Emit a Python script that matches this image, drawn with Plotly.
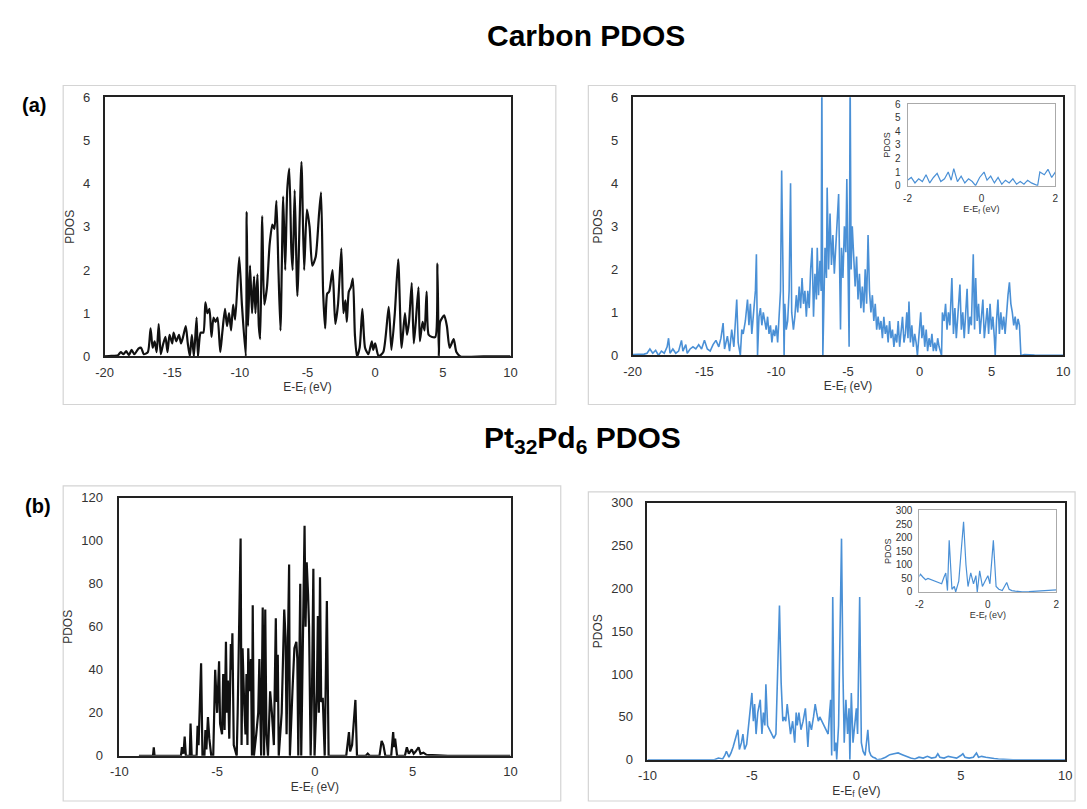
import plotly.graph_objects as go

W, H = 1087, 809

# ---------------- data ----------------
# (a) Carbon PDOS, left (black)
carbon_a_e = [-20.0, -19.5, -19.0, -18.8, -18.6, -18.4, -18.2, -18.0, -17.8, -17.5, -17.3, -17.1, -16.8, -16.6, -16.45,
              -16.3, -16.15, -16.0, -15.85, -15.7, -15.5, -15.35, -15.2, -15.0, -14.9, -14.7, -14.5, -14.35, -14.2, -14.0,
              -13.85, -13.7, -13.55, -13.4, -13.2, -13.1, -12.9, -12.7, -12.55, -12.4, -12.25, -12.1, -11.95, -11.8,
              -11.65, -11.45, -11.3, -11.1, -10.95, -10.8, -10.65, -10.5, -10.35, -10.05, -9.85, -9.56, -9.5, -9.4,
              -9.25, -9.1, -8.95, -8.85, -8.7, -8.6, -8.5, -8.35, -8.2, -8.0, -7.8, -7.6, -7.45, -7.3, -7.15, -7.0,
              -6.8, -6.65, -6.5, -6.35, -6.2, -6.1, -5.95, -5.75, -5.45, -5.25, -5.05, -4.85, -4.65, -4.4, -4.15, -4.0,
              -3.85, -3.7, -3.55, -3.4, -3.15, -2.95, -2.75, -2.5, -2.35, -2.2, -2.1, -1.95, -1.8, -1.65, -1.5, -1.35,
              -1.15, -0.95, -0.75, -0.5, -0.25, -0.15, 0.0, 0.25, 0.6, 1.0, 1.2, 1.45, 1.7, 1.95, 2.2, 2.35, 2.5, 2.7,
              2.85, 3.0, 3.2, 3.3, 3.5, 3.65, 3.8, 3.95, 4.2, 4.45, 4.6, 4.7, 4.8, 5.1, 5.3, 5.5, 5.8, 6.0, 6.3, 8.0, 10.0]
carbon_a_pdos = [0.0, 0.01, 0.03, 0.1, 0.05, 0.12, 0.03, 0.15, 0.05, 0.18, 0.2, 0.05, 0.1, 0.65, 0.2,
                 0.35, 0.1, 0.75, 0.05, 0.25, 0.45, 0.1, 0.5, 0.3, 0.55, 0.35, 0.5, 0.3, 0.45, 0.7,
                 0.3, 0.0, 0.5, 0.0, 0.9, 0.0, 0.55, 0.55, 1.25, 1.0, 1.1, 0.45, 0.9, 0.8,
                 0.9, 0.1, 0.55, 1.1, 0.7, 1.0, 0.6, 1.2, 0.85, 2.3, 1.2, 0.0, 3.35, 0.7,
                 2.1, 1.0, 1.85, 1.0, 1.9, 0.7, 0.4, 3.25, 1.2, 1.6, 2.6, 3.05, 2.95, 3.6, 2.0, 0.6,
                 3.7, 2.0, 3.85, 4.35, 2.5, 2.0, 3.85, 1.4, 4.5, 2.0, 3.4, 3.0, 2.1, 2.3, 3.3, 3.8,
                 1.5, 0.65, 1.45, 1.5, 2.0, 0.75, 1.2, 2.5, 1.0, 1.3, 0.8, 1.5, 1.6, 1.8, 0.5, 0.0,
                 0.2, 1.1, 0.2, 0.05, 0.35, 0.15, 0.3, 0.0, 0.1, 1.15, 0.15, 1.0, 2.25, 0.2, 1.0, 0.5, 0.8, 1.7,
                 0.3, 0.8, 1.6, 0.35, 0.8, 0.6, 1.5, 0.5, 0.45, 0.45, 2.15, 0.0, 0.8, 0.95, 0.7, 0.2, 0.4, 0.1, 0.0, 0.0, 0.0]

# (a) Carbon PDOS, right (blue)
carbon_b_e = [-20.0, -19.6, -19.2, -19.0, -18.8, -18.6, -18.4, -18.2, -18.0, -17.8, -17.6, -17.5, -17.4, -17.2, -17.0,
              -16.8, -16.6, -16.5, -16.3, -16.2, -16.0, -15.8, -15.6, -15.4, -15.2, -15.0, -14.8, -14.6, -14.4, -14.2,
              -14.0, -13.85, -13.7, -13.6, -13.4, -13.25, -13.1, -12.95, -12.85, -12.75, -12.65, -12.5, -12.4, -12.3,
              -12.15, -12.0, -11.9, -11.8, -11.7, -11.6, -11.45, -11.38, -11.3, -11.2, -11.1, -11.0, -10.9, -10.8,
              -10.7, -10.6, -10.5, -10.4, -10.3, -10.2, -10.1, -10.0, -9.9, -9.8, -9.7, -9.62, -9.55, -9.45, -9.4,
              -9.3, -9.2, -9.1, -9.0, -8.92, -8.8, -8.7, -8.6, -8.5, -8.4, -8.3, -8.2, -8.1, -8.0, -7.9, -7.8, -7.7,
              -7.6, -7.5, -7.4, -7.3, -7.2, -7.14, -7.05, -6.95, -6.87, -6.82, -6.75, -6.68, -6.6, -6.5, -6.45, -6.35,
              -6.25, -6.15, -6.05, -5.95, -5.85, -5.75, -5.65, -5.58, -5.52, -5.45, -5.35, -5.25, -5.15, -5.08, -5.0,
              -4.92, -4.85, -4.78, -4.7, -4.6, -4.5, -4.4, -4.3, -4.2, -4.1, -4.0, -3.9, -3.8, -3.7, -3.6, -3.5, -3.4,
              -3.3, -3.2, -3.1, -3.0, -2.9, -2.8, -2.7, -2.6, -2.5, -2.4, -2.3, -2.2, -2.1, -2.0, -1.9, -1.8, -1.7,
              -1.6, -1.5, -1.4, -1.3, -1.2, -1.1, -1.0, -0.9, -0.82, -0.75, -0.65, -0.55, -0.45, -0.35, -0.25, -0.16,
              -0.05, 0.07, 0.15, 0.25, 0.35, 0.45, 0.55, 0.65, 0.75, 0.85, 0.95, 1.05, 1.15, 1.25, 1.35, 1.45, 1.52,
              1.58, 1.7, 1.8, 1.9, 2.0, 2.1, 2.24, 2.35, 2.45, 2.55, 2.65, 2.8, 2.9, 3.0, 3.1, 3.2, 3.3, 3.4, 3.5,
              3.6, 3.73, 3.82, 3.9, 4.0, 4.1, 4.2, 4.3, 4.4, 4.5, 4.6, 4.7, 4.8, 4.9, 5.0, 5.1, 5.2, 5.26, 5.35,
              5.45, 5.55, 5.65, 5.75, 5.85, 5.95, 6.05, 6.15, 6.25, 6.35, 6.45, 6.55, 6.65, 6.75, 6.85, 6.95, 7.05,
              7.3, 8.0, 10.0]
carbon_b_pdos = [0.02, 0.02, 0.03, 0.05, 0.15, 0.05, 0.12, 0.0, 0.1, 0.05, 0.2, 0.4, 0.05, 0.15, 0.05,
                 0.1, 0.35, 0.1, 0.25, 0.05, 0.15, 0.2, 0.15, 0.25, 0.15, 0.35, 0.15, 0.1, 0.25, 0.35,
                 0.2, 0.4, 0.75, 0.15, 0.45, 0.1, 0.6, 0.2, 0.7, 1.3, 0.3, 0.0, 0.6, 0.5,
                 0.8, 1.3, 0.7, 1.2, 0.5, 0.9, 1.5, 2.35, 0.0, 0.9, 1.1, 0.7, 1.0, 0.8,
                 0.6, 0.9, 0.5, 0.7, 0.3, 0.6, 0.45, 0.7, 0.3, 0.9, 1.5, 4.3, 2.0, 0.0, 1.2,
                 0.6, 0.8, 1.5, 4.0, 1.0, 0.6, 0.9, 1.4, 1.0, 1.6, 1.1, 1.8, 1.2, 1.5, 0.9, 1.5, 1.1,
                 2.0, 2.5, 0.9, 1.9, 1.3, 2.5, 1.4, 2.2, 1.5, 6.5, 0.0, 1.2, 2.5, 1.8, 3.9, 2.0,
                 3.3, 2.1, 2.8, 1.9, 2.6, 3.0, 3.75, 2.0, 0.6, 2.5, 1.8, 3.0, 2.4, 4.1, 2.2,
                 0.2, 6.5, 2.0, 3.0, 2.2, 1.6, 2.3, 1.3, 1.9, 1.1, 1.6, 1.0, 2.0, 1.2, 2.8, 1.5, 1.0,
                 1.4, 0.8, 1.2, 0.6, 0.9, 0.6, 0.8, 0.4, 0.9, 0.5, 0.7, 0.3, 0.8, 0.4, 0.6, 0.2, 0.5,
                 0.3, 0.8, 0.2, 0.6, 0.9, 0.3, 0.5, 1.0, 0.4, 1.25, 0.3, 0.7, 0.2, 0.5, 0.3, 0.0,
                 0.6, 1.0, 0.4, 0.7, 0.2, 0.6, 0.1, 0.4, 0.2, 0.5, 0.1, 0.3, 0.1, 0.4, 0.2, 0.1, 0.0,
                 1.0, 0.8, 1.2, 0.6, 1.0, 0.7, 1.8, 0.5, 1.1, 0.4, 0.9, 1.65, 0.6, 1.0, 0.4, 0.9, 1.55, 0.5, 0.9,
                 0.7, 2.35, 0.6, 1.8, 0.8, 1.2, 0.5, 0.9, 1.3, 0.4, 0.8, 1.1, 0.5, 1.2, 0.6, 0.9, 0.4, 0.0, 0.8,
                 1.3, 0.5, 1.0, 0.6, 0.9, 0.5, 1.1, 1.4, 1.7, 1.2, 1.0, 0.7, 0.9, 0.6, 0.85, 0.7, 0.0,
                 0.02, 0.01, 0.0]

# (b) Pt32Pd6 PDOS, left (black)
pt_a_e = [-9.0, -8.28, -8.24, -8.2, -6.85, -6.8, -6.72, -6.66, -6.6, -6.4, -6.36, -6.3, -6.05, -6.0, -5.95,
          -5.82, -5.75, -5.65, -5.6, -5.55, -5.47, -5.4, -5.3, -5.2, -5.1, -5.0, -4.9, -4.85, -4.75, -4.69,
          -4.62, -4.55, -4.5, -4.45, -4.38, -4.3, -4.26, -4.22, -4.15, -4.0, -3.95, -3.88, -3.8, -3.75, -3.7,
          -3.62, -3.55, -3.5, -3.45, -3.41, -3.35, -3.27, -3.22, -3.18, -3.12, -3.0, -2.9, -2.84, -2.75, -2.67,
          -2.6, -2.54, -2.48, -2.4, -2.29, -2.2, -2.1, -2.0, -1.95, -1.9, -1.85, -1.7, -1.57, -1.5, -1.45, -1.32,
          -1.28, -1.15, -1.05, -0.95, -0.9, -0.85, -0.75, -0.7, -0.62, -0.53, -0.48, -0.42, -0.35, -0.3, -0.22,
          -0.15, -0.08, -0.02, 0.1, 0.15, 0.2, 0.26, 0.32, 0.4, 0.5, 0.61, 0.7, 1.6, 1.74, 1.8, 1.9, 2.07, 2.15,
          2.6, 2.7, 2.8, 3.3, 3.41, 3.5, 3.6, 3.9, 4.0, 4.05, 4.1, 4.2, 4.6, 4.7, 4.8, 4.95, 5.05, 5.15, 5.3,
          5.4, 5.55, 5.7, 6.0, 6.3, 6.8, 10.0]
pt_a_pdos = [0.0, 0.0, 4.0, 0.0, 0.0, 4.0, 1.0, 9.0, 0.0, 0.0, 15.0, 0.0, 0.0, 14.0, 5.0,
             43.0, 0.0, 0.0, 12.0, 3.0, 18.0, 8.0, 0.0, 0.0, 40.0, 20.0, 44.0, 15.0, 10.0, 38.0,
             12.0, 53.0, 20.0, 35.0, 8.0, 52.0, 40.0, 57.0, 5.0, 0.0, 20.0, 55.0, 101.0, 5.0, 50.0,
             25.0, 10.0, 38.0, 5.0, 50.0, 30.0, 45.0, 0.0, 70.0, 0.0, 10.0, 20.0, 45.0, 0.0, 69.0,
             0.0, 68.0, 10.0, 0.0, 30.0, 20.0, 5.0, 64.0, 25.0, 47.0, 0.0, 20.0, 68.0, 55.0, 10.0, 89.0,
             0.0, 30.0, 50.0, 53.0, 45.0, 0.0, 80.0, 0.0, 50.0, 107.0, 60.0, 90.0, 75.0, 60.0, 0.0,
             30.0, 87.0, 0.0, 30.0, 65.0, 20.0, 83.0, 25.0, 27.0, 0.0, 72.0, 0.0, 0.0, 11.0, 2.0, 5.0, 26.0, 0.0,
             0.0, 1.0, 0.0, 0.0, 7.0, 5.0, 0.0, 0.0, 11.0, 4.0, 8.0, 0.0, 0.0, 4.0, 1.0, 3.0, 1.0, 2.0, 4.0,
             1.0, 1.5, 0.5, 0.5, 0.2, 0.0, 0.0]

# (b) Pt32Pd6 PDOS, right (blue)
pt_b_e = [-10.0, -6.8, -6.6, -6.4, -6.3, -6.22, -6.1, -6.0, -5.9, -5.8, -5.67, -5.6, -5.5, -5.43, -5.35, -5.25,
          -5.15, -5.0, -4.93, -4.87, -4.8, -4.72, -4.6, -4.52, -4.45, -4.38, -4.33, -4.25, -4.15, -4.05, -3.95,
          -3.85, -3.78, -3.68, -3.6, -3.52, -3.45, -3.38, -3.31, -3.22, -3.15, -3.05, -2.95, -2.88, -2.83, -2.75,
          -2.65, -2.55, -2.44, -2.38, -2.32, -2.25, -2.15, -2.05, -1.97, -1.9, -1.82, -1.75, -1.65, -1.55, -1.45,
          -1.35, -1.28, -1.23, -1.18, -1.13, -1.05, -0.98, -0.94, -0.85, -0.78, -0.71, -0.64, -0.58, -0.5, -0.42,
          -0.35, -0.31, -0.24, -0.16, -0.08, 0.0, 0.06, 0.16, 0.24, 0.32, 0.42, 0.55, 0.62, 0.7, 0.8, 0.9, 1.0,
          1.2, 1.4, 1.6, 1.8, 2.0, 2.2, 2.4, 2.6, 2.8, 3.0, 3.2, 3.4, 3.6, 3.8, 3.9, 4.0, 4.2, 4.4, 4.6, 4.8,
          5.0, 5.1, 5.2, 5.4, 5.6, 5.75, 5.85, 6.0, 6.2, 6.4, 6.6, 6.8, 7.2, 7.5, 10.0]
pt_b_pdos = [0.0, 0.0, 2.0, 1.0, 5.0, 10.0, 3.0, 8.0, 15.0, 25.0, 35.0, 12.0, 20.0, 30.0, 12.0, 18.0,
             45.0, 78.0, 45.0, 65.0, 30.0, 55.0, 70.0, 30.0, 55.0, 40.0, 88.0, 40.0, 35.0, 30.0, 25.0,
             30.0, 100.0, 180.0, 90.0, 45.0, 50.0, 45.0, 65.0, 40.0, 30.0, 45.0, 20.0, 55.0, 40.0, 55.0,
             35.0, 45.0, 60.0, 40.0, 15.0, 45.0, 35.0, 50.0, 65.0, 55.0, 45.0, 50.0, 45.0, 40.0, 35.0,
             30.0, 55.0, 70.0, 5.0, 190.0, 10.0, 20.0, 0.0, 40.0, 150.0, 258.0, 100.0, 20.0, 70.0, 30.0,
             60.0, 0.0, 78.0, 20.0, 40.0, 60.0, 30.0, 190.0, 20.0, 10.0, 5.0, 35.0, 10.0, 5.0, 3.0, 2.0, 0.0,
             1.0, 3.0, 6.0, 7.0, 8.0, 6.0, 4.0, 2.0, 1.0, 3.0, 2.0, 4.0, 2.0, 3.0, 7.0, 3.0, 2.0, 4.0, 3.0, 2.0,
             5.0, 7.0, 3.0, 2.0, 3.0, 8.0, 3.0, 4.0, 3.0, 2.0, 1.5, 1.0, 0.5, 0.0, 0.0]

main_x_ticks_c = [-20, -15, -10, -5, 0, 5, 10]
main_x_ticks_p = [-10, -5, 0, 5, 10]
inset_x_ticks = [-2, 0, 2]
y_ticks_c = [0, 1, 2, 3, 4, 5, 6]
y_ticks_pa = [0, 20, 40, 60, 80, 100, 120]
y_ticks_pb = [0, 50, 100, 150, 200, 250, 300]

BLACK = "#111111"
BLUE = "#4a90d6"
FONT = "Liberation Sans, Arial, sans-serif"


def px(x0, x1):
    return [x0 / W, x1 / W]


def py(y_top, y_bot):
    return [1 - y_bot / H, 1 - y_top / H]


def labels(vals):
    return [str(v) for v in vals]  # plain hyphen minus as in the reference


fig = go.Figure()

fig.add_trace(go.Scatter(x=carbon_a_e, y=carbon_a_pdos, mode="lines",
                         line=dict(color=BLACK, width=2.2, shape="spline", smoothing=0.6),
                         xaxis="x", yaxis="y", showlegend=False))
fig.add_trace(go.Scatter(x=carbon_b_e, y=carbon_b_pdos, mode="lines",
                         line=dict(color=BLUE, width=1.6),
                         xaxis="x2", yaxis="y2", showlegend=False))
fig.add_trace(go.Scatter(x=carbon_b_e, y=carbon_b_pdos, mode="lines",
                         line=dict(color=BLUE, width=1.2),
                         xaxis="x3", yaxis="y3", showlegend=False))
fig.add_trace(go.Scatter(x=pt_a_e, y=pt_a_pdos, mode="lines",
                         line=dict(color=BLACK, width=2.2),
                         xaxis="x4", yaxis="y4", showlegend=False))
fig.add_trace(go.Scatter(x=pt_b_e, y=pt_b_pdos, mode="lines",
                         line=dict(color=BLUE, width=1.6),
                         xaxis="x5", yaxis="y5", showlegend=False))
fig.add_trace(go.Scatter(x=pt_b_e, y=pt_b_pdos, mode="lines",
                         line=dict(color=BLUE, width=1.2),
                         xaxis="x6", yaxis="y6", showlegend=False))

xt = "E-E<sub>f</sub> (eV)"
tickfont = dict(family=FONT, size=13, color="#333")
small = dict(family=FONT, size=10, color="#333")
tfont = dict(family=FONT, size=12, color="#333")
tsmall = dict(family=FONT, size=9, color="#333")


def xax(dom, rng, ticks, anchor, font, title_font, standoff, line_color, lw):
    return dict(domain=dom, range=rng, tickvals=ticks, ticktext=labels(ticks), anchor=anchor,
                showgrid=False, zeroline=False,
                showline=True, mirror=True, linecolor=line_color, linewidth=lw, ticks="",
                tickfont=font, ticklabelstandoff=3,
                title=dict(text=xt, font=title_font, standoff=standoff))


def yax(dom, rng, ticks, anchor, font, title_font, standoff, line_color, lw, lstand):
    return dict(domain=dom, range=rng, tickvals=ticks, ticktext=labels(ticks), anchor=anchor,
                showgrid=False, zeroline=False,
                showline=True, mirror=True, linecolor=line_color, linewidth=lw, ticks="",
                tickfont=font, ticklabelstandoff=lstand,
                title=dict(text="PDOS", font=title_font, standoff=standoff))


fig.update_layout(
    width=W, height=H, margin=dict(l=0, r=0, t=0, b=0),
    paper_bgcolor="white", plot_bgcolor="white",
    font=dict(family=FONT, color="#333"),
    xaxis=xax(px(97, 509), [-20, 10], main_x_ticks_c, "y", tickfont, tfont, 4, "#222", 1.6),
    yaxis=yax(py(92, 356), [0, 6], y_ticks_c, "x", tickfont, tfont, 6, "#222", 1.6, 10),
    xaxis2=xax(px(633, 1070), [-20, 10], main_x_ticks_c, "y2", tickfont, tfont, 4, "#222", 1.6),
    yaxis2=yax(py(92, 355), [0, 6], y_ticks_c, "x2", tickfont, tfont, 6, "#222", 1.6, 10),
    xaxis3=xax(px(912, 1062), [-2, 2], inset_x_ticks, "y3", small, tsmall, 2, "#aaa", 1),
    yaxis3=yax(py(99, 182), [0, 6], y_ticks_c, "x3", small, tsmall, 2, "#aaa", 1, 4),
    xaxis4=xax(px(112, 509), [-10, 10], main_x_ticks_p, "y4", tickfont, tfont, 4, "#222", 1.6),
    yaxis4=yax(py(500, 763), [0, 120], y_ticks_pa, "x4", tickfont, tfont, 6, "#222", 1.6, 12),
    xaxis5=xax(px(648, 1072), [-10, 10], main_x_ticks_p, "y5", tickfont, tfont, 4, "#222", 1.6),
    yaxis5=yax(py(505, 767), [0, 300], y_ticks_pb, "x5", tickfont, tfont, 6, "#222", 1.6, 10),
    xaxis6=xax(px(924, 1063), [-2, 2], inset_x_ticks, "y6", small, tsmall, 2, "#aaa", 1),
    yaxis6=yax(py(513, 596), [0, 300], y_ticks_pb, "x6", small, tsmall, 2, "#aaa", 1, 4),
)

boxes = [(55, 80, 555, 405), (588, 80, 1082, 405), (55, 488, 560, 809), (588, 494, 1082, 809)]
for x0, y0, x1, y1 in boxes:
    fig.add_shape(type="rect", xref="paper", yref="paper",
                  x0=x0 / W, x1=x1 / W, y0=1 - y1 / H, y1=1 - y0 / H,
                  line=dict(color="#d4d4d4", width=1.2), fillcolor="rgba(0,0,0,0)", layer="below")

ann = [
    dict(text="<b>Carbon PDOS</b>", x=586, y=29, size=30),
    dict(text="<b>Pt<sub>32</sub>Pd<sub>6</sub> PDOS</b>", x=582, y=441, size=30),
    dict(text="<b>(a)</b>", x=25, y=100, size=20),
    dict(text="<b>(b)</b>", x=29, y=508, size=20),
]
for a in ann:
    fig.add_annotation(text=a["text"], x=a["x"] / W, y=1 - a["y"] / H, xref="paper", yref="paper",
                       showarrow=False, xanchor="center", yanchor="middle",
                       font=dict(family=FONT, size=a["size"], color="#000"))

fig.write_html("out.html")
